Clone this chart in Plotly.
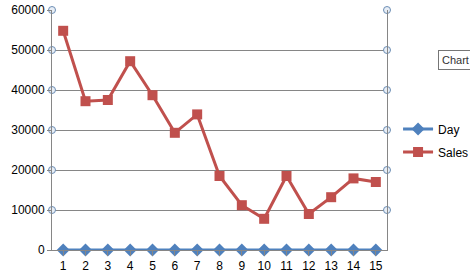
import plotly.graph_objects as go

days = list(range(1, 16))
day_values = list(range(1, 16))
sales_values = [54800, 37200, 37500, 47200, 38700, 29300, 33900, 18500, 11200, 7800, 18500, 9000, 13200, 17900, 17000]
y_ticks = [0, 10000, 20000, 30000, 40000, 50000, 60000]

BLUE = "#4F81BD"
RED = "#C0504D"
GRID = "#868686"
FONT = "Liberation Sans"

fig = go.Figure()

# gridline handles (small circles at axis ends)
for xpos in [0.5, 15.5]:
    fig.add_trace(go.Scatter(
        x=[xpos] * (len(y_ticks) - 1), y=y_ticks[1:], mode="markers",
        marker=dict(symbol="circle", size=7, color="#E8EEF6", line=dict(color="#6C8EB5", width=1)),
        showlegend=False, hoverinfo="skip", cliponaxis=False,
    ))

fig.add_trace(go.Scatter(
    x=days, y=day_values, name="Day", mode="lines+markers",
    line=dict(color=BLUE, width=3), legendgroup="day",
    marker=dict(symbol="diamond", size=10, color=BLUE),
    cliponaxis=False,
))
fig.add_trace(go.Scatter(
    x=days, y=sales_values, name="Sales", mode="lines+markers",
    line=dict(color=RED, width=3), legendgroup="sales",
    marker=dict(symbol="square", size=10, color=RED),
    cliponaxis=False,
))

fig.update_layout(
    width=470, height=279,
    margin=dict(l=52, r=83, t=10, b=29, autoexpand=False),
    paper_bgcolor="white", plot_bgcolor="white",
    font=dict(family=FONT, size=12, color="black"),
    legend=dict(x=1.033, y=0.565, xanchor="left", yanchor="top",
                font=dict(size=12), tracegroupgap=4, itemwidth=30,
                bgcolor="rgba(0,0,0,0)"),
    xaxis=dict(
        range=[0.5, 15.5], tickvals=days, ticktext=[str(d) for d in days],
        showgrid=False, zeroline=False, showline=True, linecolor=GRID, linewidth=1,
        ticks="outside", ticklen=5, tickcolor=GRID,
        tickson="boundaries",
    ),
    yaxis=dict(
        range=[0, 60000], tickvals=y_ticks, ticktext=[str(v) for v in y_ticks],
        showgrid=True, gridcolor=GRID, gridwidth=1, zeroline=False,
        showline=True, linecolor=GRID, mirror=True, linewidth=1,
        ticks="outside", ticklen=4, tickcolor=GRID,
    ),
    annotations=[dict(
        text="Chart", xref="paper", yref="paper", x=1.152, y=0.79,
        xanchor="left", yanchor="middle", showarrow=False,
        bordercolor="#767676", borderwidth=1, borderpad=3, bgcolor="white",
        font=dict(size=11, color="#333333"),
    )],
)

fig.write_html("out.html")
